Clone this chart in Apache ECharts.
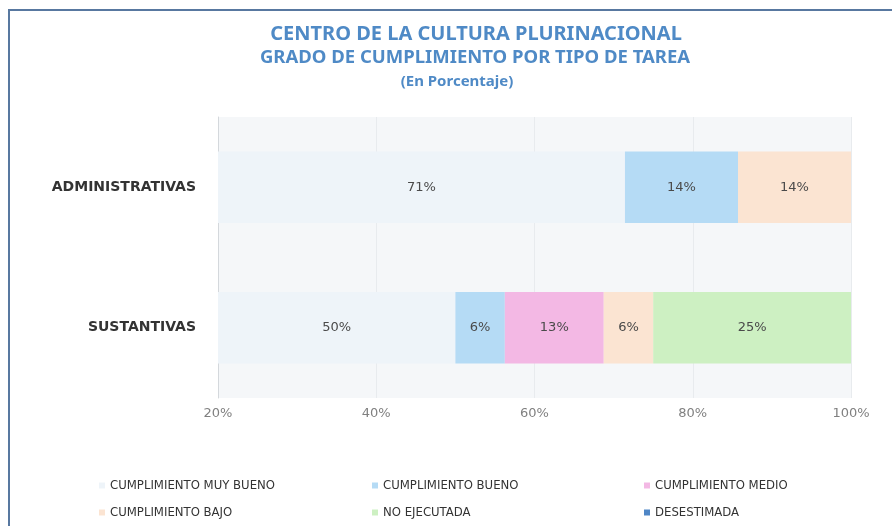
<!DOCTYPE html>
<html>
<head>
<meta charset="utf-8">
<script src="https://cdn.jsdelivr.net/npm/echarts@6/dist/echarts.min.js"></script>
<style>
  html, body { margin: 0; padding: 0; background: #fff; }
  #chart { width: 892px; height: 526px; }
</style>
</head>
<body>
<div id="chart"></div>
<script>
// categories, top to bottom
const categories = ['ADMINISTRATIVAS', 'SUSTANTIVAS'];
const seriesNames = [
    'CUMPLIMIENTO MUY BUENO',
    'CUMPLIMIENTO BUENO',
    'CUMPLIMIENTO MEDIO',
    'CUMPLIMIENTO BAJO',
    'NO EJECUTADA',
    'DESESTIMADA'
];
// percentages per category (admin, sustantivas)
const muyBueno = [71.43, 50];
const bueno = [14.29, 6.25];
const medio = [0, 12.5];
const bajo = [14.29, 6.25];
const noEjecutada = [0, 25];
const desestimada = [0, 0];
const xTicks = [20, 40, 60, 80, 100];

const colors = ['#eef4f9', '#b5dbf5', '#f3b8e4', '#fbe4d2', '#cdf0c2', '#4f86c6'];
const allValues = [muyBueno, bueno, medio, bajo, noEjecutada, desestimada];
const titleColor = '#4f8ac6';

const chart = echarts.init(document.getElementById('chart'));

const series = seriesNames.map((name, i) => ({
    name: name,
    type: 'bar',
    stack: 'total',
    barWidth: '51%',
    itemStyle: { color: colors[i] },
    label: {
        show: true,
        position: 'inside',
        color: '#4a4a4a',
        fontSize: 13,
        fontFamily: 'DejaVu Sans',
        formatter: (p) => p.value > 0 ? Math.round(p.value) + '%' : ''
    },
    data: allValues[i]
}));

// legend in two rows, three fixed columns
const legendCols = [94, 367, 639];
const legends = seriesNames.map((name, i) => ({
    data: [name],
    left: legendCols[i % 3],
    top: i < 3 ? 474 : 501,
    icon: 'rect', itemWidth: 6, itemHeight: 6, itemGap: 4,
    textStyle: { color: '#333', fontSize: 13, fontFamily: 'DejaVu Sans Condensed' }
}));

chart.setOption({
    backgroundColor: '#fff',
    grid: {
        left: 218, right: 41, top: 117, bottom: 128,
        show: true, backgroundColor: '#f5f7f9', borderWidth: 0
    },
    legend: legends,
    xAxis: {
        type: 'value',
        min: 20, max: 100, interval: 20,
        axisLine: { show: false },
        axisTick: { show: false },
        splitLine: { show: true, lineStyle: { color: '#e8ebee' } },
        axisLabel: {
            color: '#808080', fontSize: 13, fontFamily: 'DejaVu Sans', margin: 9,
            formatter: (v) => xTicks.includes(v) ? v + '%' : ''
        }
    },
    yAxis: {
        type: 'category',
        inverse: true,
        data: categories,
        axisLine: { show: true, lineStyle: { color: '#d4d8dc' } },
        axisTick: { show: false },
        axisLabel: { color: '#333', fontSize: 14, fontWeight: 'bold', fontFamily: 'DejaVu Sans', margin: 22 }
    },
    graphic: [
        { type: 'line', shape: { x1: 9, y1: 10, x2: 9, y2: 526 }, style: { stroke: '#5878a0', lineWidth: 2 } },
        { type: 'line', shape: { x1: 8, y1: 10, x2: 892, y2: 10 }, style: { stroke: '#5878a0', lineWidth: 2 } },
        {
            type: 'text', x: 476, y: 34,
            style: { text: 'CENTRO DE LA CULTURA PLURINACIONAL', fill: titleColor, align: 'center', verticalAlign: 'middle',
                font: 'bold 20px "Noto Sans"' }
        },
        {
            type: 'text', x: 475, y: 58,
            style: { text: 'GRADO DE CUMPLIMIENTO POR TIPO DE TAREA', fill: titleColor, align: 'center', verticalAlign: 'middle',
                font: 'bold 18.5px "Noto Sans"' }
        },
        {
            type: 'text', x: 457, y: 82,
            style: { text: '(En Porcentaje)', fill: titleColor, align: 'center', verticalAlign: 'middle',
                font: 'bold 15px "Noto Sans"' }
        }
    ],
    series: series
});
</script>
</body>
</html>
